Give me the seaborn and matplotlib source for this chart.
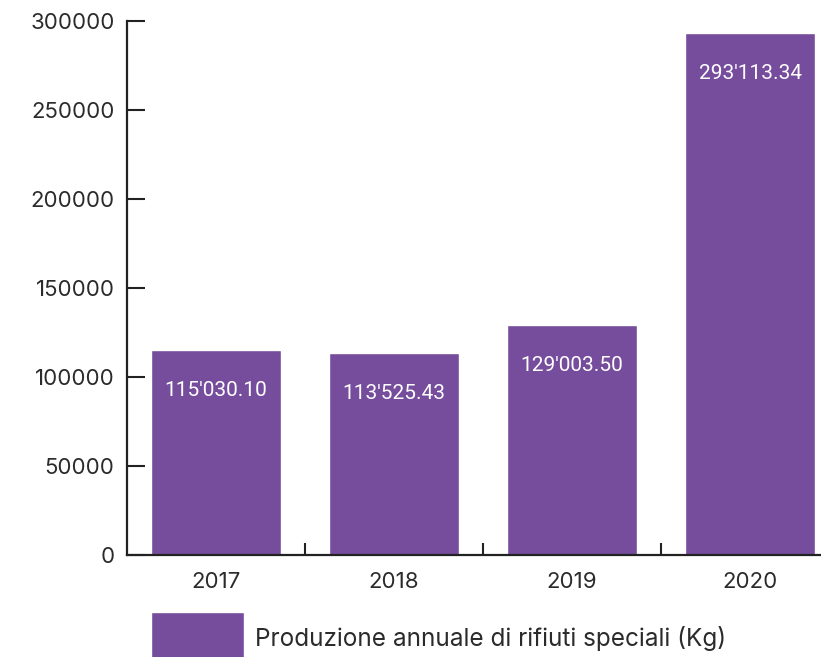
import matplotlib
matplotlib.use("Agg")
import matplotlib.pyplot as plt
import seaborn as sns
import pandas as pd
from matplotlib.patches import Patch

# data
years = ["2017", "2018", "2019", "2020"]
values = [115030.10, 113525.43, 129003.50, 293113.34]
value_labels = ["115'030.10", "113'525.43", "129'003.50", "293'113.34"]
series_name = "Produzione annuale di rifiuti speciali (Kg)"

purple = "#764d9c"
text_col = "#2b2b2b"

sns.set_style("white")
plt.rcParams["font.family"] = ["Inter", "DejaVu Sans"]

fig = plt.figure(figsize=(8.21, 6.57), dpi=100)
ax = fig.add_axes([127 / 821, 102 / 657, 712 / 821, 534 / 657])

df = pd.DataFrame({"anno": years, "kg": values})
sns.barplot(data=df, x="anno", y="kg", color=purple, saturation=1,
            width=0.725, ax=ax)

for patch, lab in zip(ax.patches, value_labels):
    ax.annotate(lab, (patch.get_x() + patch.get_width() / 2, patch.get_height()),
                xytext=(0, -29), textcoords="offset points",
                ha="center", va="center", color="white", fontsize=15,
                family=["Roboto", "DejaVu Sans"])

ax.set_xlim(-0.5, 3.5)
ax.set_ylim(0, 300000)
ax.set_yticks(range(0, 300001, 50000))
ax.set_xlabel("")
ax.set_ylabel("")

# ticks between categories, labels in the middle
ax.set_xticks([0.5, 1.5, 2.5])
ax.set_xticklabels([])
ax.set_xticks(range(len(years)), minor=True)
ax.set_xticklabels(years, minor=True)
ax.tick_params(axis="x", which="major", bottom=True, direction="in", length=9,
               width=1.5, color="#222222")
ax.tick_params(axis="x", which="minor", bottom=True, length=0, pad=12,
               labelsize=16, labelcolor=text_col)
ax.tick_params(axis="y", left=True, direction="in", length=13, width=1.5, pad=9,
               color="#222222", labelsize=16, labelcolor=text_col)

sns.despine(ax=ax, top=True, right=True)
for side in ["left", "bottom"]:
    ax.spines[side].set_linewidth(1.6)
    ax.spines[side].set_color("#222222")

handle = Patch(facecolor=purple, label=series_name)
fig.legend(handles=[handle], loc="lower left", bbox_to_anchor=(129 / 821, -0.047),
           frameon=False, fontsize=17.5, handlelength=3.85, handleheight=3.05,
           handletextpad=0.45, labelcolor=text_col)

fig.savefig("out.png", dpi=100)
